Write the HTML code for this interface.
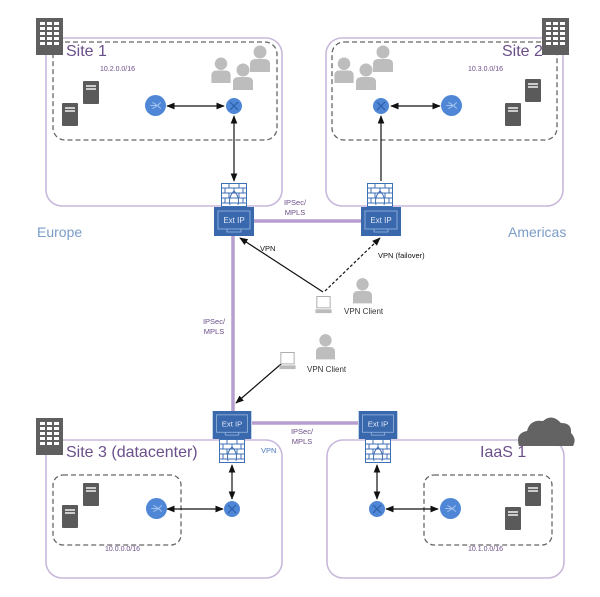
<!DOCTYPE html>
<html><head><meta charset="utf-8"><style>
html,body{margin:0;padding:0;background:#fff;}
svg{display:block;}
text{font-family:"Liberation Sans",sans-serif;}
</style></head><body>
<svg width="600" height="597" viewBox="0 0 600 597" xmlns="http://www.w3.org/2000/svg">
<defs>
<marker id="ah" viewBox="0 0 10 10" refX="9" refY="5" markerWidth="7" markerHeight="7" orient="auto-start-reverse"><path d="M0,1 L10,5 L0,9 z" fill="#111"/></marker>
<symbol id="bld" viewBox="0 0 27 37"><rect width="27" height="37" fill="#5f5f5f"/><g fill="#fff">
<rect x="4" y="4" width="5" height="3"/><rect x="11" y="4" width="5" height="3"/><rect x="18" y="4" width="5" height="3"/>
<rect x="4" y="9" width="5" height="3"/><rect x="11" y="9" width="5" height="3"/><rect x="18" y="9" width="5" height="3"/>
<rect x="4" y="14" width="5" height="3"/><rect x="11" y="14" width="5" height="3"/><rect x="18" y="14" width="5" height="3"/>
<rect x="4" y="19" width="5" height="3"/><rect x="11" y="19" width="5" height="3"/><rect x="18" y="19" width="5" height="3"/>
<rect x="4" y="24" width="5" height="3"/><rect x="11" y="24" width="5" height="3"/><rect x="18" y="24" width="5" height="3"/></g></symbol>
<symbol id="srv" viewBox="0 0 16 23"><rect width="16" height="23" rx="1" fill="#5a5a5a"/><rect x="3" y="4" width="10" height="2" fill="#ccc"/><rect x="3" y="7" width="10" height="2" fill="#ccc"/></symbol>
<symbol id="usr" viewBox="0 0 20 27"><circle cx="10" cy="7" r="6.5" fill="#bdbdbd"/><path d="M0,27 V19 Q0,14 6,14 H14 Q20,14 20,19 V27 z" fill="#bdbdbd"/></symbol>
<symbol id="rtr" viewBox="0 0 20 20"><circle cx="10" cy="10" r="10" fill="#4f87d6"/><path d="M5,10 H12 M7,7 L12,10 L7,13 M12,10 L15,7 M12,10 L15,13" stroke="#9fc0ee" stroke-width="1" fill="none"/></symbol>
<symbol id="sw" viewBox="0 0 16 16"><circle cx="8" cy="8" r="8" fill="#4f87d6"/><path d="M4,4 L12,12 M12,4 L4,12" stroke="#2c5fa8" stroke-width="1.2"/></symbol>
<symbol id="fw" viewBox="0 0 26 24"><rect x="0.5" y="0.5" width="25" height="23" fill="#fff" stroke="#3f6fb5"/><g stroke="#3f6fb5" stroke-width="1" fill="none"><path d="M0,5 H26 M0,10 H26 M0,15 H26 M0,20 H26 M8,0 V5 M18,0 V5 M4,5 V10 M13,5 V10 M22,5 V10 M8,10 V15 M18,10 V15 M4,15 V20 M22,15 V20"/><path d="M9,22 Q7,14 13,8 Q19,14 17,22"/></g></symbol>
<symbol id="ext" viewBox="0 0 40 29"><rect width="40" height="29" fill="#3a68ad"/><rect x="4" y="4" width="32" height="18" fill="none" stroke="#9cb8e0" stroke-width="0.8"/><path d="M13,22 V25 H27 V22" fill="none" stroke="#9cb8e0" stroke-width="0.8"/><text x="20" y="16" text-anchor="middle" font-size="8" fill="#dfe8f7">Ext IP</text></symbol>
<symbol id="lap" viewBox="0 0 17 20"><rect x="1.5" y="0.5" width="14" height="12" fill="#fff" stroke="#aaa"/><rect x="0" y="14" width="17" height="4" fill="#bbb"/></symbol>
</defs>

<!-- site boxes -->
<g fill="none" stroke="#c9b8db" stroke-width="1.6">
<rect x="46" y="38" width="236" height="168" rx="16"/>
<rect x="326" y="38" width="237" height="168" rx="16"/>
<rect x="46" y="440" width="236" height="138" rx="16"/>
<rect x="327" y="440" width="237" height="138" rx="16"/>
</g>
<g fill="none" stroke="#666" stroke-width="1.3" stroke-dasharray="5,3">
<rect x="53" y="42" width="224" height="98" rx="12"/>
<rect x="332" y="42" width="225" height="98" rx="12"/>
<rect x="53" y="475" width="128" height="70" rx="10"/>
<rect x="424" y="475" width="128" height="70" rx="10"/>
</g>

<!-- purple links -->
<g stroke="#b79dd0" stroke-width="3.5">
<line x1="253" y1="221" x2="362" y2="221"/>
<line x1="233" y1="236" x2="233" y2="411"/>
<line x1="252" y1="423" x2="358" y2="423"/>
</g>

<!-- buildings -->
<use href="#bld" x="36" y="18" width="27" height="37"/>
<use href="#bld" x="542" y="18" width="27" height="37"/>
<use href="#bld" x="36" y="418" width="27" height="37"/>
<!-- cloud -->
<path d="M519,446 Q515,433 527,431 Q530,419 543,421 Q552,413 561,423 Q572,423 571,433 Q577,439 573,446 z" fill="#636363"/>

<!-- labels -->
<text x="66" y="56" font-size="16" fill="#6b4f8a">Site 1</text>
<text x="502" y="56" font-size="16" fill="#6b4f8a">Site 2</text>
<text x="66" y="457" font-size="16" fill="#6b4f8a">Site 3 (datacenter)</text>
<text x="480" y="457" font-size="16" fill="#6b4f8a">IaaS 1</text>
<text x="100" y="71" font-size="7" fill="#6b4f8a">10.2.0.0/16</text>
<text x="468" y="71" font-size="7" fill="#6b4f8a">10.3.0.0/16</text>
<text x="105" y="551" font-size="7" fill="#6b4f8a">10.0.0.0/16</text>
<text x="468" y="551" font-size="7" fill="#6b4f8a">10.1.0.0/16</text>
<text x="37" y="237" font-size="14" fill="#7a9cc8">Europe</text>
<text x="508" y="237" font-size="14" fill="#7a9cc8">Americas</text>
<text x="295" y="205" font-size="7.5" fill="#6b4f8a" text-anchor="middle">IPSec/</text>
<text x="295" y="215" font-size="7.5" fill="#6b4f8a" text-anchor="middle">MPLS</text>
<text x="214" y="324" font-size="7.5" fill="#6b4f8a" text-anchor="middle">IPSec/</text>
<text x="214" y="334" font-size="7.5" fill="#6b4f8a" text-anchor="middle">MPLS</text>
<text x="302" y="434" font-size="7.5" fill="#6b4f8a" text-anchor="middle">IPSec/</text>
<text x="302" y="444" font-size="7.5" fill="#6b4f8a" text-anchor="middle">MPLS</text>
<text x="261" y="453" font-size="7.5" fill="#4a78c0">VPN</text>
<text x="260" y="251" font-size="7.5" fill="#111">VPN</text>
<text x="378" y="258" font-size="7.5" fill="#111">VPN (failover)</text>
<text x="344" y="314" font-size="8" fill="#333">VPN Client</text>
<text x="307" y="372" font-size="8" fill="#333">VPN Client</text>

<!-- black connectors -->
<g stroke="#111" stroke-width="1.2" fill="none">
<line x1="167" y1="106" x2="224" y2="106" marker-start="url(#ah)" marker-end="url(#ah)"/>
<line x1="234" y1="116" x2="234" y2="181" marker-start="url(#ah)" marker-end="url(#ah)"/>
<line x1="391" y1="106" x2="440" y2="106" marker-start="url(#ah)" marker-end="url(#ah)"/>
<line x1="381" y1="116" x2="381" y2="181" marker-start="url(#ah)"/>
<line x1="323" y1="292" x2="240" y2="238" marker-end="url(#ah)"/>
<line x1="325" y1="291" x2="380" y2="238" stroke-dasharray="3,2" marker-end="url(#ah)"/>
<line x1="288" y1="358" x2="236" y2="403" marker-end="url(#ah)"/>
<line x1="232" y1="465" x2="232" y2="499" marker-start="url(#ah)" marker-end="url(#ah)"/>
<line x1="167" y1="509" x2="223" y2="509" marker-start="url(#ah)" marker-end="url(#ah)"/>
<line x1="377" y1="465" x2="377" y2="499" marker-start="url(#ah)" marker-end="url(#ah)"/>
<line x1="386" y1="509" x2="438" y2="509" marker-start="url(#ah)" marker-end="url(#ah)"/>
</g>

<!-- network devices -->
<use href="#fw" x="221" y="183" width="26" height="24"/>
<use href="#ext" x="214" y="207" width="40" height="29"/>
<use href="#fw" x="367" y="183" width="26" height="24"/>
<use href="#ext" x="361" y="207" width="40" height="29"/>
<use href="#ext" x="212" y="411" width="40" height="28"/>
<use href="#fw" x="219" y="439" width="26" height="24"/>
<use href="#ext" x="358" y="411" width="40" height="28"/>
<use href="#fw" x="365" y="439" width="26" height="24"/>

<use href="#rtr" x="145" y="95" width="21" height="21"/>
<use href="#sw" x="226" y="98" width="16" height="16"/>
<use href="#sw" x="373" y="98" width="16" height="16"/>
<use href="#rtr" x="441" y="95" width="21" height="21"/>
<use href="#rtr" x="146" y="498" width="21" height="21"/>
<use href="#sw" x="224" y="501" width="16" height="16"/>
<use href="#sw" x="369" y="501" width="16" height="16"/>
<use href="#rtr" x="440" y="498" width="21" height="21"/>

<!-- servers -->
<use href="#srv" x="83" y="81" width="16" height="23"/>
<use href="#srv" x="62" y="103" width="16" height="23"/>
<use href="#srv" x="525" y="79" width="16" height="23"/>
<use href="#srv" x="505" y="103" width="16" height="23"/>
<use href="#srv" x="83" y="483" width="16" height="23"/>
<use href="#srv" x="62" y="505" width="16" height="23"/>
<use href="#srv" x="525" y="483" width="16" height="23"/>
<use href="#srv" x="505" y="507" width="16" height="23"/>

<!-- users -->
<use href="#usr" x="211" y="57" width="20" height="26"/>
<use href="#usr" x="233" y="63" width="20" height="27"/>
<use href="#usr" x="250" y="45" width="20" height="27"/>
<use href="#usr" x="334" y="57" width="20" height="26"/>
<use href="#usr" x="356" y="63" width="20" height="27"/>
<use href="#usr" x="373" y="45" width="20" height="27"/>
<use href="#usr" x="353" y="277" width="19" height="27"/>
<use href="#usr" x="316" y="333" width="19" height="27"/>
<use href="#lap" x="315" y="296" width="17" height="19"/>
<use href="#lap" x="279" y="352" width="17" height="19"/>
</svg>
</body></html>
